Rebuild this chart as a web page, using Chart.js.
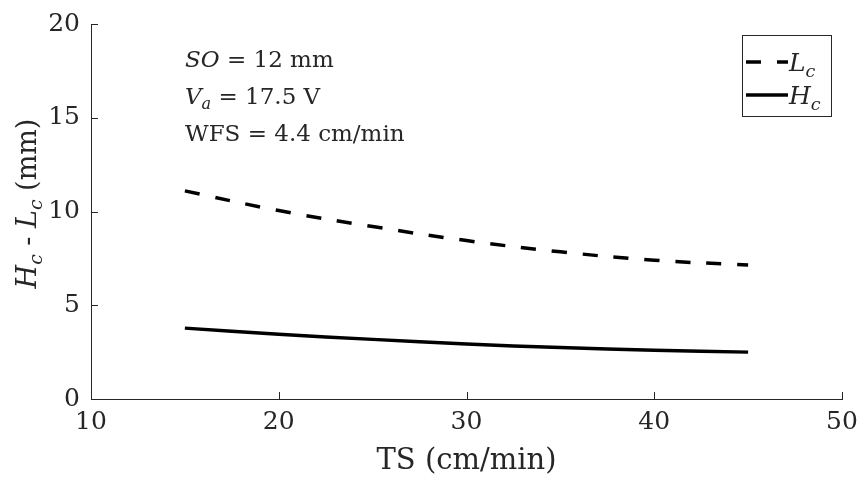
<!DOCTYPE html>
<html>
<head>
<meta charset="utf-8">
<script src="https://cdn.jsdelivr.net/npm/chart.js@4/dist/chart.umd.min.js"></script>
<style>
  html, body { margin: 0; padding: 0; background: #fff; }
  #wrap { width: 858px; height: 483px; position: relative; }
</style>
</head>
<body>
<div id="wrap"><canvas id="hlChart"></canvas></div>
<script>
// Travel speed (cm/min)
const travelSpeed = [15, 20, 25, 30, 35, 40, 45];
// Lower / higher contour values (mm)
const lcValues = [11.1, 10.05, 9.2, 8.45, 7.85, 7.4, 7.15];
const hcValues = [3.78, 3.45, 3.18, 2.93, 2.75, 2.6, 2.5];
const xTicks = [10, 20, 30, 40, 50];
const yTicks = [0, 5, 10, 15, 20];

const SERIF = '"DejaVu Serif", "Liberation Serif", serif';
const INK = '#262626';

// draw a run of text pieces: [{t, it, sub}]
function drawRuns(ctx, runs, x, y, size) {
    let cx = x;
    runs.forEach(r => {
        const s = r.sub ? size * 0.7 : size;
        ctx.font = (r.it ? 'italic ' : '') + s + 'px ' + SERIF;
        ctx.fillText(r.t, cx, r.sub ? y + size * 0.22 : y);
        cx += ctx.measureText(r.t).width;
    });
    return cx;
}

function runsWidth(ctx, runs, size) {
    let w = 0;
    runs.forEach(r => {
        ctx.font = (r.it ? 'italic ' : '') + (r.sub ? size * 0.7 : size) + 'px ' + SERIF;
        w += ctx.measureText(r.t).width;
    });
    return w;
}

const extrasPlugin = {
    id: 'extras',
    afterDraw(chart) {
        const ctx = chart.ctx;
        const xs = chart.scales.x, ys = chart.scales.y;
        ctx.save();

        // inward ticks (MATLAB style)
        ctx.strokeStyle = INK;
        ctx.lineWidth = 1;
        ctx.beginPath();
        xTicks.forEach(v => {
            const px = Math.round(xs.getPixelForValue(v)) + 0.5;
            ctx.moveTo(px, ys.bottom);
            ctx.lineTo(px, ys.bottom - 7);
        });
        yTicks.forEach(v => {
            const py = Math.round(ys.getPixelForValue(v)) + 0.5;
            ctx.moveTo(xs.left, py);
            ctx.lineTo(xs.left + 7, py);
        });
        ctx.stroke();

        // annotation text
        ctx.fillStyle = INK;
        ctx.textBaseline = 'alphabetic';
        ctx.textAlign = 'left';
        const tx = 185, fs = 23;
        drawRuns(ctx, [{t: 'SO', it: true}, {t: ' = 12 mm'}], tx, 67, fs);
        drawRuns(ctx, [{t: 'V', it: true}, {t: 'a', it: true, sub: true}, {t: ' = 17.5 V'}], tx, 104, fs);
        drawRuns(ctx, [{t: 'WFS = 4.4 cm/min'}], tx, 141, fs);

        // legend box
        const bx = 742, by = 35, bw = 89, bh = 81;
        ctx.fillStyle = '#fff';
        ctx.fillRect(bx, by, bw, bh);
        ctx.strokeStyle = INK;
        ctx.lineWidth = 1;
        ctx.strokeRect(bx + 0.5, by + 0.5, bw, bh);
        const rows = [
            {ds: chart.data.datasets[0], y: 62, name: 'L'},
            {ds: chart.data.datasets[1], y: 95, name: 'H'}
        ];
        rows.forEach(r => {
            ctx.strokeStyle = r.ds.borderColor;
            ctx.lineWidth = r.ds.borderWidth;
            ctx.setLineDash(r.ds.borderDash || []);
            ctx.beginPath();
            ctx.moveTo(746, r.y);
            ctx.lineTo(788, r.y);
            ctx.stroke();
            ctx.setLineDash([]);
            ctx.fillStyle = INK;
            drawRuns(ctx, [{t: r.name, it: true}, {t: 'c', it: true, sub: true}], 789, r.y + 9, 25);
        });

        // y-axis title, rotated
        ctx.translate(36, (ys.top + ys.bottom) / 2 - 8);
        ctx.rotate(-Math.PI / 2);
        ctx.fillStyle = INK;
        const runs = [{t: 'H', it: true}, {t: 'c', it: true, sub: true}, {t: ' - '},
                      {t: 'L', it: true}, {t: 'c', it: true, sub: true}, {t: ' (mm)'}];
        const w = runsWidth(ctx, runs, 27);
        drawRuns(ctx, runs, -w / 2, 0, 27);
        ctx.restore();
    }
};

const ctx = document.getElementById('hlChart');
new Chart(ctx, {
    type: 'line',
    data: {
        datasets: [
            {
                label: 'Lc',
                data: travelSpeed.map((x, i) => ({x: x, y: lcValues[i]})),
                borderColor: '#000',
                borderWidth: 3.5,
                borderDash: [15, 16],
                pointRadius: 0,
                tension: 0.4,
                fill: false
            },
            {
                label: 'Hc',
                data: travelSpeed.map((x, i) => ({x: x, y: hcValues[i]})),
                borderColor: '#000',
                borderWidth: 3.5,
                pointRadius: 0,
                tension: 0.4,
                fill: false
            }
        ]
    },
    options: {
        responsive: true,
        maintainAspectRatio: false,
        animation: false,
        layout: { padding: { top: 24, right: 16, left: 0, bottom: 0 } },
        plugins: {
            legend: { display: false },
            tooltip: { enabled: false }
        },
        scales: {
            x: {
                type: 'linear',
                min: 10, max: 50,
                afterFit: s => { s.height = 84; s.paddingLeft = 0; s.paddingRight = 0; },
                afterBuildTicks: s => { s.ticks = xTicks.map(v => ({value: v})); },
                grid: { display: true, drawOnChartArea: false, drawTicks: false },
                border: { display: true, color: INK, width: 1 },
                ticks: { color: INK, padding: 8, font: { family: SERIF, size: 25 } },
                title: {
                    display: true,
                    text: 'TS (cm/min)',
                    color: INK,
                    font: { family: SERIF, size: 29 },
                    padding: { top: 0, bottom: 4 }
                }
            },
            y: {
                min: 0, max: 20,
                afterFit: s => { s.width = 91; s.paddingTop = 0; s.paddingBottom = 0; },
                afterBuildTicks: s => { s.ticks = yTicks.map(v => ({value: v})); },
                grid: { display: true, drawOnChartArea: false, drawTicks: false },
                border: { display: true, color: INK, width: 1 },
                ticks: { color: INK, padding: 11, font: { family: SERIF, size: 25 } }
            }
        }
    },
    plugins: [extrasPlugin]
});
</script>
</body>
</html>
